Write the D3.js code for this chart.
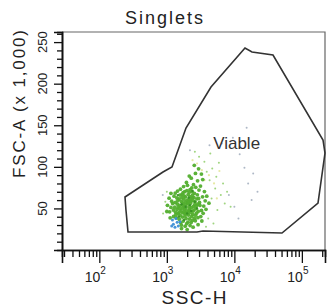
<!DOCTYPE html>
<html><head><meta charset="utf-8">
<script src="https://cdnjs.cloudflare.com/ajax/libs/d3/7.8.5/d3.min.js"></script>
<style>html,body{margin:0;padding:0;background:#fff;}svg{display:block;font-family:"Liberation Sans",Arial,sans-serif;}</style>
</head><body><div id="chart"></div>
<script>
const chartTitle = "Singlets";
const xTitle = "SSC-H";
const yTitle = "FSC-A (x 1,000)";
const gateName = "Viable";
const xMajorTicks = [100, 1000, 10000, 100000];
const xExponents = ["2", "3", "4", "5"];
const xMinorTicks = [30,40,50,60,70,80,90,200,300,400,500,600,700,800,900,2000,3000,4000,5000,6000,7000,8000,9000,20000,30000,40000,50000,60000,70000,80000,90000,200000];
const yMajorTicks = [50, 100, 150, 200, 250];
const yMinorTicks = [10,20,30,40,60,70,80,90,110,120,130,140,160,170,180,190,210,220,230,240,260];
// gate polygon (SSC-H, FSC-A in thousands)
const gateSSC = [240, 877, 1192, 1921, 4508, 14370, 18250, 37350, 205500, 220000, 173300, 50750, 3431, 2797, 266, 248];
const gateFSC = [63.7, 93.8, 99.8, 146.7, 196, 242.9, 238.1, 234.5, 132.3, 116.6, 56.5, 20.4, 22.8, 21.6, 21.6, 48.1];
// events [SSC-H, FSC-A (x1000)]
const greenEvents = [
[1830,44.2],[2270,58.7],[1520,61.3],[2650,41.9],[1980,71.4],[1410,48.8],[2390,35.6],[1720,53.9],[3050,57.2],[1260,40.3],
[2140,47.6],[1890,63.8],[2560,68.2],[1610,32.7],[2920,46.5],[1340,57.1],[2210,29.4],[1770,76.3],[3380,63.9],[1480,43.5],
[2030,55.8],[2480,52.4],[1680,66.9],[1150,51.2],[2780,61.5],[1930,37.8],[2340,74.6],[1560,53.6],[3180,40.2],[1280,64.7],
[2090,42.1],[1820,49.3],[2620,57.9],[1440,70.8],[2200,64.2],[1710,39.6],[2990,72.1],[1350,45.3],[2450,46.8],[1950,81.2],
[1640,58.4],[2310,51.1],[1870,28.6],[2710,49.7],[1530,36.9],[2150,69.5],[3520,52.8],[1220,55.9],[2050,33.4],[1780,61.1],
[2560,38.1],[1960,46.9],[1410,62.6],[2830,66.3],[1690,44.7],[2240,56.3],[3260,47.5],[1590,73.2],[2380,62.8],[1100,45.9],
[1900,54.7],[2680,75.4],[1470,51.8],[2110,60.4],[1750,34.8],[3090,53.6],[1330,68.4],[2410,42.7],[1840,70.1],[2170,37.3],
[1620,47.2],[2520,63.1],[1990,59.6],[1380,38.6],[2880,38.9],[1730,56.7],[2260,45.4],[1560,66.1],[3700,59.1],[2020,77.8],
[1860,40.9],[2590,54.6],[1250,48.1],[2130,52.2],[1670,62.9],[2360,70.3],[1510,45.1],[2960,61.9],[1920,50.6],[2290,33.1],
[1790,46.1],[2440,59.3],[1430,55.3],[2070,66.7],[1640,29.9],[2750,44.3],[1180,58.6],[2180,49.1],[1880,57.8],[2530,48.3],
[1580,41.2],[2060,44.6],[1740,68.9],[2330,40.4],[1460,59.8],[2870,55.1],[1970,31.7],[2210,72.7],[1310,51.5],[2640,35.2],
[1810,52.1],[2400,66.1],[1700,50.4],[2080,57.3],[1550,49.6],[2250,61.4],[1930,43.6],[2730,52.9],[1360,42.4],[1800,65.2],
[2480,78.6],[2850,83.2],[2300,86.4],[3150,76.9],[2650,92.1],[3400,84.7],[2950,97.6],[2550,101.8],[3250,91.3],[2150,88.9],
[3600,70.2],[3900,64.7],[4200,56.3],[3450,44.1],[3800,48.9],[1080,62.3],[1020,53.7],[1150,68.1],[1650,25.8],[2450,27.4],
[2000,24.6],[2900,30.5],[3300,34.9],[1120,38.7],[1000,46.3]
];
const darkGreenEvents = [[1900,52],[2300,47],[1650,55],[2100,63],[2600,58],[1500,40],[2400,71],[1800,36],[2800,50],[2000,44],[1450,66],[2200,54]];
const paleGreenEvents = [[4600,62],[5200,74],[4300,84],[5600,48],[6300,66],[3900,94],[4700,98],[3600,106],[5400,88],[7200,56],[6800,80],[3000,112],[2600,118],[4100,38],[4900,32],[950,58],[880,44],[1000,70],[3800,28],[7800,70],[8800,52],[5900,105],[4400,116]];
const blueEvents = [[1250,31],[1320,27.5],[1420,33.5],[1360,38],[1210,36],[1480,29],[1560,34],[1180,29]];
const yellowEvents = [[3300,96],[4200,90],[5000,80],[2800,104],[6000,95],[3600,84],[5500,62],[2400,108]];
const greyEvents = [[15200,147],[14100,99],[16000,80],[10000,52],[8300,66],[870,66],[4280,126],[2200,120],[12000,115],[19000,92],[22000,70],[9500,135],[6500,128],[11500,38],[18000,60]];

const W = 328, H = 308;
const m = {left: 62, right: 3, top: 32, bottom: 58};
const svg = d3.select("#chart").append("svg").attr("width", W).attr("height", H);
svg.append("rect").attr("width", W).attr("height", H).attr("fill", "#fff");

const x = d3.scaleLog().domain([28, 220000]).range([m.left, W - m.right]);
const y = d3.scaleLinear().domain([0, 262.144]).range([H - m.bottom, m.top]);

svg.append("path").attr("d", `M${m.left},${m.top}H${W - m.right}V${H - m.bottom}`)
  .attr("fill", "none").attr("stroke", "#666").attr("stroke-width", 1.2);

const layers = [
  [greyEvents, "#9aa6b8", 1.0, 0.8],
  [yellowEvents, "#e4e79a", 1.1, 0.9],
  [paleGreenEvents, "#8fce6a", 1.0, 0.85],
  [greenEvents, "#52ae2e", 1.9, 0.95],
  [darkGreenEvents, "#348f22", 1.2, 0.9],
  [blueEvents, "#3d8fd6", 1.5, 0.95]
];
layers.forEach(([data, col, r, op]) => {
  svg.append("g").selectAll("circle").data(data).join("circle")
    .attr("cx", d => x(d[0])).attr("cy", d => y(d[1])).attr("r", r)
    .attr("fill", col).attr("opacity", op);
});

const gate = gateSSC.map((v, i) => [v, gateFSC[i]]);
svg.append("path").datum(gate)
  .attr("d", d3.line().x(d => x(d[0])).y(d => y(d[1])).curve(d3.curveLinearClosed))
  .attr("fill", "none").attr("stroke", "#333").attr("stroke-width", 1.6);
svg.append("text").attr("x", x(10800)).attr("y", y(121)).attr("text-anchor", "middle")
  .attr("font-size", 17).attr("fill", "#333").text(gateName);

const gx = svg.append("g").attr("transform", `translate(0,${H - m.bottom})`);
gx.append("g").call(d3.axisBottom(x).tickValues(xMinorTicks).tickSize(7).tickFormat(""));
gx.append("g").call(d3.axisBottom(x).tickValues(xMajorTicks).tickSize(13).tickFormat(""));
gx.selectAll(".domain").attr("stroke", "#111").attr("stroke-width", 1.6);
gx.selectAll(".tick line").attr("stroke", "#111").attr("stroke-width", 1.3);

const gy = svg.append("g").attr("transform", `translate(${m.left},0)`);
gy.append("g").call(d3.axisLeft(y).tickValues(yMinorTicks).tickSize(5).tickFormat(""));
gy.append("g").call(d3.axisLeft(y).tickValues(yMajorTicks).tickSize(8).tickFormat(""));
gy.selectAll(".domain").attr("stroke", "#111").attr("stroke-width", 1.6);
gy.selectAll(".tick line").attr("stroke", "#111").attr("stroke-width", 1.3);

xMajorTicks.forEach((v, i) => {
  svg.append("text").attr("x", x(v) + 1).attr("y", 282).attr("text-anchor", "end")
    .attr("font-size", 14).attr("fill", "#222").text("10");
  svg.append("text").attr("x", x(v) + 1).attr("y", 274).attr("font-size", 10).attr("fill", "#222").text(xExponents[i]);
});
yMajorTicks.forEach(v => {
  svg.append("text").attr("transform", `translate(47,${y(v)}) rotate(-90)`)
    .attr("text-anchor", "middle").attr("font-size", 13).attr("fill", "#222").text(v);
});

svg.append("text").attr("x", 164).attr("y", 24).attr("text-anchor", "middle")
  .attr("font-size", 18).attr("fill", "#222").attr("textLength", 78).attr("lengthAdjust", "spacing").text(chartTitle);
svg.append("text").attr("x", 194).attr("y", 304).attr("text-anchor", "middle")
  .attr("font-size", 19).attr("fill", "#222").attr("textLength", 65).attr("lengthAdjust", "spacing").text(xTitle);
svg.append("text").attr("transform", "translate(25,104) rotate(-90)").attr("text-anchor", "middle")
  .attr("font-size", 17).attr("fill", "#222").attr("textLength", 148).attr("lengthAdjust", "spacing").text(yTitle);
</script></body></html>
